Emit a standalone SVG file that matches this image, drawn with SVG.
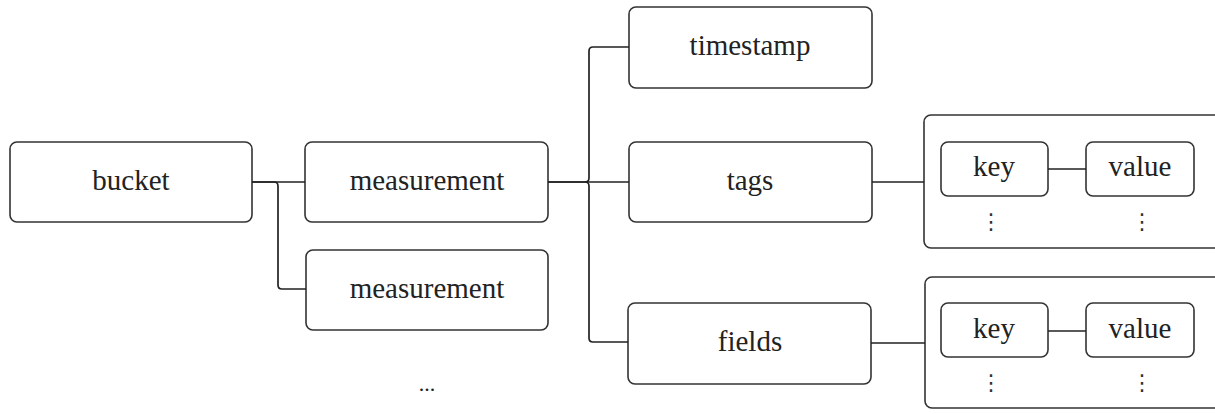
<svg xmlns="http://www.w3.org/2000/svg" width="1215" height="414" viewBox="0 0 1215 414">
<style>
.box{fill:#fff;stroke:#333;stroke-width:1.6}
.lbl{font-family:"Liberation Serif",serif;font-size:29px;fill:#222;text-anchor:middle}
.klbl{font-family:"Liberation Serif",serif;font-size:29px;fill:#222;text-anchor:middle}
.dots{font-family:"DejaVu Sans",sans-serif;font-size:22px;fill:#333;text-anchor:middle}
.con{fill:none;stroke:#222;stroke-width:1.7}
</style>
<rect width="1215" height="414" fill="#fff"/>
<g id="bucket"><rect class="box" x="10" y="142" width="242" height="80" rx="7"/><text class="lbl" x="131" y="190">bucket</text></g>
<g id="measurement1"><rect class="box" x="305" y="142" width="243" height="80" rx="7"/><text class="lbl" x="427" y="190">measurement</text></g>
<g id="measurement2"><rect class="box" x="306" y="250" width="242" height="80" rx="7"/><text class="lbl" x="427" y="298">measurement</text></g>
<g id="more"><text class="lbl" x="427" y="391" style="font-size:22px">...</text></g>
<g id="timestamp"><rect class="box" x="629" y="7" width="243" height="81" rx="7"/><text class="lbl" x="750" y="55">timestamp</text></g>
<g id="tags"><rect class="box" x="629" y="142" width="243" height="80" rx="7"/><text class="lbl" x="750" y="190">tags</text></g>
<g id="fields"><rect class="box" x="628" y="303" width="243" height="81" rx="7"/><text class="lbl" x="750" y="351">fields</text></g>
<g id="tags-map">
<rect class="box" x="924" y="115" width="300" height="133" rx="7"/>
<rect class="box" x="941" y="142" width="107" height="54" rx="7"/><text class="klbl" x="994" y="176">key</text>
<rect class="box" x="1086" y="142" width="108" height="54" rx="7"/><text class="klbl" x="1140" y="176">value</text>
<text class="dots" x="991" y="229">⋮</text>
<text class="dots" x="1142" y="229">⋮</text>
</g>
<g id="fields-map">
<rect class="box" x="925" y="277" width="300" height="131" rx="7"/>
<rect class="box" x="941" y="303" width="107" height="54" rx="7"/><text class="klbl" x="994" y="338">key</text>
<rect class="box" x="1086" y="303" width="108" height="54" rx="7"/><text class="klbl" x="1140" y="338">value</text>
<text class="dots" x="991" y="390">⋮</text>
<text class="dots" x="1142" y="390">⋮</text>
</g>
<g id="connectors">
<path class="con" d="M252,182 H305"/>
<path class="con" d="M252,182 H274 Q278,182 278,186 V285 Q278,289 282,289 H306"/>
<path class="con" d="M548,182 H629"/>
<path class="con" d="M548,182 H585 Q589,182 589,178 V51 Q589,47 593,47 H629"/>
<path class="con" d="M585,182 Q589,182 589,186 V338 Q589,342 593,342 H628"/>
<path class="con" d="M872,182 H924"/>
<path class="con" d="M871,343 H925"/>
<path class="con" d="M1048,169 H1086"/>
<path class="con" d="M1048,331 H1086"/>
</g>
</svg>
